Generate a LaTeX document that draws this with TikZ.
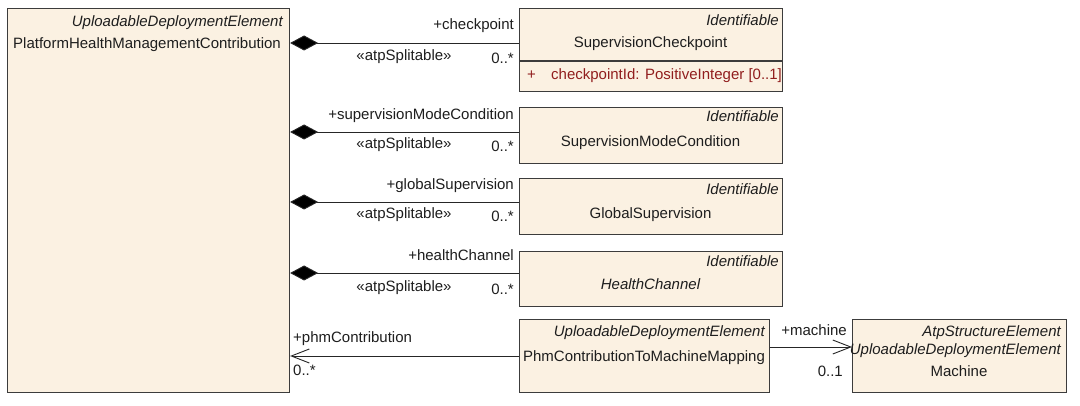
\documentclass[tikz,border=0pt]{standalone}
\usepackage{fontspec}
\setmainfont{Liberation Sans}
\usetikzlibrary{arrows.meta}
\definecolor{boxfill}{RGB}{251,241,226}
\definecolor{boxdraw}{RGB}{60,60,60}
\definecolor{attrc}{RGB}{145,30,30}
\definecolor{txtc}{RGB}{30,30,30}
\newcommand\umlfs{\fontsize{15}{18}\selectfont}
\begin{document}
\begin{tikzpicture}[x=1pt,y=-1pt,
  cls/.style={draw=boxdraw, fill=boxfill, line width=1.1pt, inner sep=0pt, anchor=north west},
  txtn/.style={inner sep=0pt, text=txtc, font=\umlfs},
  ital/.style={inner sep=0pt, text=txtc, font=\umlfs\itshape},
  conn/.style={draw=black!85, line width=0.9pt},
  comp/.style={conn, {Diamond[length=28pt,width=15pt,fill=black]}-},
  navi/.style={conn, -{Straight Barb[length=18pt,width=14pt]}}
]
\useasboundingbox (0,0) rectangle (1080,406);
\fill[white] (0,0) rectangle (1080,406);

% main class
\node[cls, minimum width=282pt, minimum height=384pt] (main) at (7,8) {};
\node[ital, anchor=base east] (mst) at (283,27) {UploadableDeploymentElement};
\node[txtn, anchor=base west] (mname) at (13,49) {PlatformHealthManagementContribution};

% SupervisionCheckpoint
\node[cls, minimum width=263pt, minimum height=83pt] (cp) at (519,8) {};
\node[ital, anchor=base east] (cpst) at (779,26) {Identifiable};
\node[txtn, anchor=base] (cpname) at (650.5,48) {SupervisionCheckpoint};
\draw[draw=boxdraw, line width=1.1pt] (cp.west |- 0,61) -- (cp.east |- 0,61);
\node[txtn, text=attrc, anchor=base west] (cpplus) at (527,80) {+};
\node[txtn, text=attrc, anchor=base west] (cpattr) at (551,80) {checkpointId: PositiveInteger [0..1]};
\draw[comp] (main.east |- 0,43) -- (cp.west |- 0,43);
\node[txtn, anchor=base east] (l1a) at (514,30) {+checkpoint};
\node[txtn, anchor=base] (l1b) at (404,61) {«atpSplitable»};
\node[txtn, anchor=base east] (l1c) at (514,64) {0..*};

% SupervisionModeCondition
\node[cls, minimum width=263pt, minimum height=56pt] (smc) at (519,107) {};
\node[ital, anchor=base east] (smcst) at (779,122) {Identifiable};
\node[txtn, anchor=base] (smcname) at (650.5,147) {SupervisionModeCondition};
\draw[comp] (main.east |- 0,132) -- (smc.west |- 0,132);
\node[txtn, anchor=base east] (l2a) at (514,120) {+supervisionModeCondition};
\node[txtn, anchor=base] (l2b) at (404,149) {«atpSplitable»};
\node[txtn, anchor=base east] (l2c) at (514,152) {0..*};

% GlobalSupervision
\node[cls, minimum width=263pt, minimum height=56pt] (gs) at (519,178) {};
\node[ital, anchor=base east] (gsst) at (779,195) {Identifiable};
\node[txtn, anchor=base] (gsname) at (650.5,219) {GlobalSupervision};
\draw[comp] (main.east |- 0,202) -- (gs.west |- 0,202);
\node[txtn, anchor=base east] (l3a) at (514,190) {+globalSupervision};
\node[txtn, anchor=base] (l3b) at (404,219) {«atpSplitable»};
\node[txtn, anchor=base east] (l3c) at (514,222) {0..*};

% HealthChannel
\node[cls, minimum width=263pt, minimum height=55pt] (hc) at (519,251) {};
\node[ital, anchor=base east] (hcst) at (779,267) {Identifiable};
\node[ital, anchor=base] (hcname) at (650.5,290) {HealthChannel};
\draw[comp] (main.east |- 0,273) -- (hc.west |- 0,273);
\node[txtn, anchor=base east] (l4a) at (514,261) {+healthChannel};
\node[txtn, anchor=base] (l4b) at (404,292) {«atpSplitable»};
\node[txtn, anchor=base east] (l4c) at (514,295) {0..*};

% PhmContributionToMachineMapping
\node[cls, minimum width=250pt, minimum height=73pt] (pcm) at (519,319) {};
\node[ital, anchor=base east] (pcmst) at (765,337) {UploadableDeploymentElement};
\node[txtn, anchor=base] (pcmname) at (644,361) {PhmContributionToMachineMapping};
\draw[navi] (pcm.west |- 0,356) -- (main.east |- 0,356);
\node[txtn, anchor=base west] (l5a) at (293,343) {+phmContribution};
\node[txtn, anchor=base west] (l5c) at (293,375) {0..*};

% Machine
\node[cls, minimum width=214pt, minimum height=73pt] (mach) at (852,319) {};
\node[ital, anchor=base east] (machst1) at (1061,337) {AtpStructureElement};
\node[ital, anchor=base east] (machst2) at (1061,355) {UploadableDeploymentElement};
\node[txtn, anchor=base] (machname) at (959,377) {Machine};
\draw[navi] (pcm.east |- 0,347) -- (mach.west |- 0,347);
\node[txtn, anchor=base east] (l6a) at (847,335) {+machine};
\node[txtn, anchor=base east] (l6c) at (843,376) {0..1};
\end{tikzpicture}
\end{document}
